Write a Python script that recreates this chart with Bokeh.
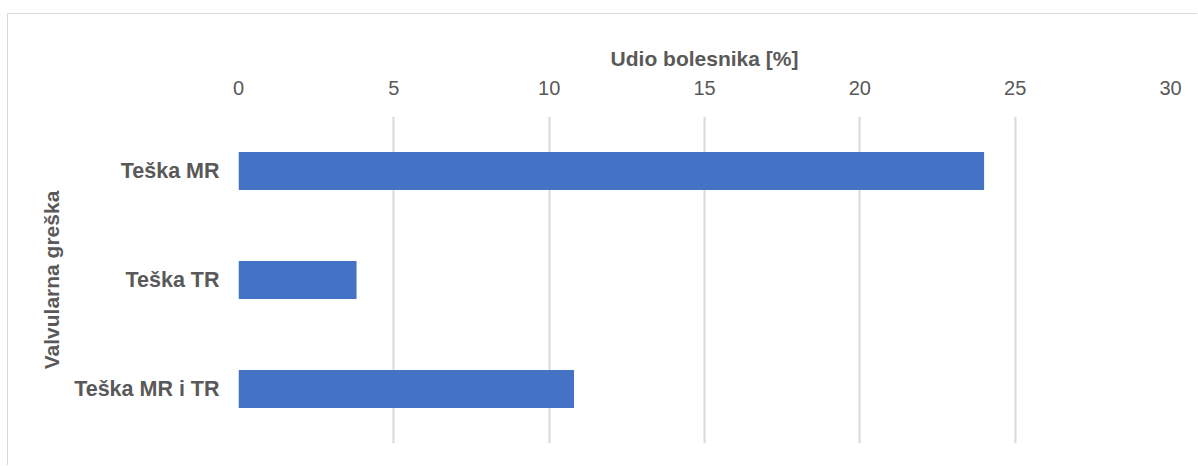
from bokeh.plotting import figure
from bokeh.models import FactorRange, Range1d, ColumnDataSource, Spacer, FixedTicker
from bokeh.layouts import column, row
from bokeh.embed import file_html
from bokeh.resources import INLINE

categories = ["Teška MR", "Teška TR", "Teška MR i TR"]
values = [24.0, 3.8, 10.8]
x_ticks = [0, 5, 10, 15, 20, 25, 30]

src = ColumnDataSource(dict(cat=categories, val=values))

p = figure(width=1190, height=452, output_backend="svg", toolbar_location=None,
           y_range=FactorRange(factors=list(reversed(categories))),
           x_range=Range1d(0, 30), x_axis_location="above",
           min_border_left=230, min_border_right=28, min_border_top=102, min_border_bottom=23)

p.hbar(y="cat", right="val", left=0, height=0.35, source=src, color="#4472C4", line_color=None)

p.outline_line_color = None
p.styles = {"border-top": "1px solid #d9d9d9", "border-left": "1px solid #d9d9d9"}

xa = p.xaxis[0]
xa.ticker = FixedTicker(ticks=x_ticks)
xa.axis_label = "Udio bolesnika [%]"
xa.axis_label_text_font = "Liberation Sans"
xa.axis_label_text_font_style = "bold"
xa.axis_label_text_font_size = "21px"
xa.axis_label_text_color = "#595959"
xa.axis_label_standoff = 8
xa.major_label_text_font = "Liberation Sans"
xa.major_label_text_font_size = "20px"
xa.major_label_text_color = "#595959"
xa.major_label_standoff = 16
xa.axis_line_color = None
xa.major_tick_line_color = None
xa.minor_tick_line_color = None

ya = p.yaxis[0]
ya.axis_label = "Valvularna greška"
ya.axis_label_text_font = "Liberation Sans"
ya.axis_label_text_font_style = "bold"
ya.axis_label_text_font_size = "21px"
ya.axis_label_text_color = "#595959"
ya.axis_label_standoff = 8
ya.major_label_text_font = "Liberation Sans"
ya.major_label_text_font_style = "bold"
ya.major_label_text_font_size = "21.5px"
ya.major_label_text_color = "#595959"
ya.major_label_standoff = 13
ya.axis_line_color = None
ya.major_tick_line_color = None
ya.minor_tick_line_color = None

p.xgrid.grid_line_color = "#d9d9d9"
p.xgrid.grid_line_width = 2
p.ygrid.grid_line_color = None

layout = column(Spacer(height=13), row(Spacer(width=7), p))
open("out.html", "w").write(file_html(layout, INLINE))
